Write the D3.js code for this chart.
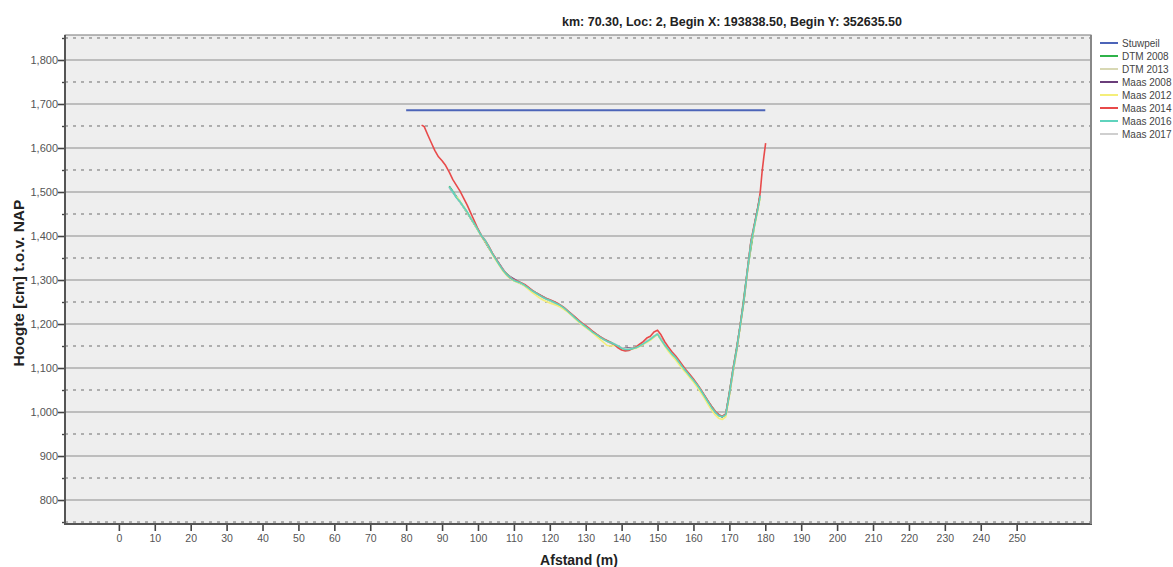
<!DOCTYPE html>
<html><head><meta charset="utf-8">
<script src="https://cdn.jsdelivr.net/npm/d3@7"></script>
<style>body{margin:0;background:#fff}svg{display:block;font-family:"Liberation Sans",Arial,sans-serif}</style>
</head><body>
<svg id="c" width="1173" height="567"></svg>
<script>
const titleText = "km: 70.30, Loc: 2, Begin X: 193838.50, Begin Y: 352635.50";
const xLabel = "Afstand (m)";
const yLabel = "Hoogte [cm] t.o.v. NAP";
const xTicks = d3.range(0, 251, 10);
const yMajor = [800, 900, 1000, 1100, 1200, 1300, 1400, 1500, 1600, 1700, 1800];
const yMinor = [750, 850, 950, 1050, 1150, 1250, 1350, 1450, 1550, 1650, 1750, 1850];
const legendNames = ["Stuwpeil", "DTM 2008", "DTM 2013", "Maas 2008", "Maas 2012", "Maas 2014", "Maas 2016", "Maas 2017"];
const legendColors = ["#4c64b8", "#2fb34a", "#d8d8b4", "#6a3d7a", "#f4ee7a", "#e84a4a", "#5fd3bd", "#cfcfcf"];

const stuwpeil = [[80, 1686], [180, 1686]];

const dtm2008 = [[92,1513],[95,1478],[98,1440],[101,1400],[104,1360],[107,1322],[110,1299],[113,1288],[116,1271],[119,1257],[122,1246],[125,1229],[128,1207],[131,1188],[134,1170],[137,1158],[140,1145],[143,1144],[146,1155],[149,1172],[150,1177],[152,1152],[155,1124],[158,1092],[161,1062],[164,1024],[167,992],[168,989],[169,994],[171,1095],[173,1195],[175,1320],[177,1425],[178.6,1492]];

const dtm2013 = [[93,1500],[95,1477],[97,1454],[99,1427],[101,1399],[103,1375],[105,1346],[107,1321],[109,1304],[111,1295],[113,1287],[115,1275],[117,1265],[119,1256],[121,1249],[123,1241],[125,1228],[127,1213],[129,1199],[131,1187],[133,1175],[135,1164],[137,1157],[139,1149],[141,1143],[143,1145],[145,1151],[147,1161],[149,1173],[150,1178],[151,1165],[153,1143],[155,1125],[157,1103],[159,1083],[161,1063],[163,1038],[165,1012],[167,993],[168,990],[169,995],[170,1038],[171,1093],[172,1139],[173,1194],[174,1249],[175,1318],[176,1383],[177,1424],[178,1464]];

const maas2008 = [[92,1511],[96,1466],[100,1414],[104,1360],[108,1312],[112,1293],[116,1271],[120,1254],[124,1236],[128,1207],[132,1181],[136,1161],[140,1145],[144,1146],[148,1165],[150,1177],[154,1132],[158,1092],[162,1050],[166,1000],[168,989],[169,995],[170,1040],[172,1140],[174,1250],[176,1385],[178,1466],[178.6,1493]];

const maas2012 = [[94,1490],[95,1479],[96,1467],[97,1454],[98,1440],[99,1427],[100,1413],[101,1399],[102,1388],[103,1374],[104,1358],[105,1345],[106,1332],[107,1320],[108,1310],[109,1303],[110,1298],[111,1295],[112,1292],[113,1286],[114,1279],[115,1272],[116,1266],[117,1260],[118,1255],[119,1251],[120,1248],[121,1245],[122,1242],[123,1238],[124,1233],[125,1227],[126,1220],[127,1212],[128,1205],[129,1198],[130,1192],[131,1186],[132,1179],[133,1172],[134,1165],[135,1158],[136,1151],[137,1150],[138,1151],[139,1148],[140,1144],[141,1141],[142,1141],[143,1143],[144,1145],[145,1149],[146,1154],[147,1158],[148,1163],[149,1170],[150,1176],[151,1163],[152,1150],[153,1138],[154,1128],[155,1119],[156,1108],[157,1097],[158,1088],[159,1078],[160,1068],[161,1057],[162,1045],[163,1032],[164,1018],[165,1005],[166,994],[167,986],[168,983],[169,989],[170,1035],[171,1090],[172,1136],[173,1192],[174,1247],[175,1316],[176,1381],[177,1422],[178,1462],[178.6,1488]];

const maas2014 = [[84.3,1652],[85,1649],[86,1630],[87,1612],[88,1594],[89,1580],[90,1571],[91,1560],[92,1545],[93,1528],[94,1515],[95,1502],[96,1486],[97,1470],[98,1452],[99,1434],[100,1416],[101,1400],[102,1390],[103,1377],[104,1361],[105,1348],[106,1335],[107,1323],[108,1313],[109,1305],[110,1300],[111,1297],[112,1294],[113,1290],[114,1284],[115,1277],[116,1272],[117,1267],[118,1262],[119,1258],[120,1255],[121,1252],[122,1248],[123,1243],[124,1237],[125,1230],[126,1223],[127,1216],[128,1209],[129,1202],[130,1196],[131,1190],[132,1183],[133,1177],[134,1171],[135,1166],[136,1162],[137,1158],[138,1153],[139,1146],[140,1141],[141,1139],[142,1140],[143,1144],[144,1148],[145,1154],[146,1160],[147,1168],[148,1172],[149,1182],[150,1186],[151,1175],[152,1160],[153,1148],[154,1137],[155,1128],[156,1117],[157,1106],[158,1095],[159,1085],[160,1075],[161,1064],[162,1052],[163,1039],[164,1026],[165,1013],[166,1002],[167,994],[168,990],[169,996],[170,1042],[171,1098],[172,1142],[173,1197],[174,1252],[175,1322],[176,1388],[177,1428],[178,1468],[178.6,1500],[179.1,1545],[179.6,1580],[180.1,1611]];

const maas2016 = [[92,1512],[93,1500],[94,1487],[95,1478],[96,1466],[97,1455],[98,1440],[99,1428],[100,1414],[101,1400],[102,1390],[103,1376],[104,1360],[105,1347],[106,1334],[107,1322],[108,1312],[109,1305],[110,1299],[111,1296],[112,1293],[113,1288],[114,1282],[115,1276],[116,1271],[117,1266],[118,1261],[119,1257],[120,1254],[121,1250],[122,1246],[123,1242],[124,1236],[125,1229],[126,1222],[127,1214],[128,1207],[129,1200],[130,1194],[131,1188],[132,1181],[133,1176],[134,1170],[135,1165],[136,1161],[137,1158],[138,1154],[139,1150],[140,1145],[141,1142],[142,1142],[143,1144],[144,1146],[145,1150],[146,1155],[147,1160],[148,1165],[149,1172],[150,1177],[151,1164],[152,1152],[153,1142],[154,1132],[155,1124],[156,1113],[157,1102],[158,1092],[159,1082],[160,1072],[161,1062],[162,1050],[163,1037],[164,1024],[165,1011],[166,1000],[167,992],[168,989],[169,994],[170,1040],[171,1095],[172,1140],[173,1195],[174,1250],[175,1320],[176,1385],[177,1425],[178,1465],[178.6,1492]];

const maas2017 = [[92,1510],[94,1488],[96,1465],[98,1441],[100,1414],[102,1391],[104,1361],[106,1335],[108,1313],[110,1300],[112,1294],[114,1283],[116,1272],[118,1262],[120,1255],[122,1247],[124,1237],[126,1223],[128,1208],[130,1195],[132,1182],[134,1171],[136,1162],[138,1155],[140,1146],[142,1143],[144,1147],[146,1156],[148,1166],[150,1178],[152,1153],[154,1133],[156,1114],[158,1093],[160,1073],[162,1051],[164,1025],[166,1001],[167,993],[168,990],[169,995],[170,1041],[171,1096],[172,1141],[173,1196],[174,1251],[176,1386],[178,1466],[178.6,1493]];

const seriesData = {"Stuwpeil": stuwpeil, "DTM 2008": dtm2008, "DTM 2013": dtm2013, "Maas 2008": maas2008, "Maas 2012": maas2012, "Maas 2014": maas2014, "Maas 2016": maas2016, "Maas 2017": maas2017};
const drawOrder = ["DTM 2008", "Maas 2008", "DTM 2013", "Maas 2017", "Maas 2012", "Maas 2014", "Maas 2016", "Stuwpeil"];

const svg = d3.select("#c");
const L = 65, R = 1091, T = 35, B = 524;
const x = d3.scaleLinear().domain([-15, 270.7]).range([L, R]);
const y = d3.scaleLinear().domain([745.5, 1856.8]).range([B, T]);
const color = d3.scaleOrdinal().domain(legendNames).range(legendColors);

svg.append("rect").attr("x", L).attr("y", T).attr("width", R - L).attr("height", B - T)
  .attr("fill", "#eeeeee").attr("stroke", "#777").attr("stroke-width", 1);

// gridlines
svg.append("g").selectAll("line").data(yMajor).join("line")
  .attr("x1", L).attr("x2", R).attr("y1", d => y(d)).attr("y2", d => y(d))
  .attr("stroke", "#8c8c8c").attr("stroke-width", 1.2);
svg.append("g").selectAll("line").data(yMinor).join("line")
  .attr("x1", L).attr("x2", R).attr("y1", d => y(d)).attr("y2", d => y(d))
  .attr("stroke", "#6e6e6e").attr("stroke-width", 1).attr("stroke-dasharray", "3,5");

// y axis
const yAxisMajor = d3.axisLeft(y).tickValues(yMajor).tickSize(7).tickFormat(d3.format(","));
const gy = svg.append("g").attr("transform", `translate(${L},0)`).call(yAxisMajor);
gy.select(".domain").remove();
gy.selectAll(".tick line").attr("stroke", "#444").attr("stroke-width", 1.6);
gy.selectAll(".tick text").attr("fill", "#555").attr("font-size", 11).attr("x", -7);
const gy2 = svg.append("g").attr("transform", `translate(${L},0)`)
  .call(d3.axisLeft(y).tickValues(yMinor).tickSize(3).tickFormat(""));
gy2.select(".domain").remove();
gy2.selectAll(".tick line").attr("stroke", "#444").attr("stroke-width", 1.4);

// x axis
const gx = svg.append("g").attr("transform", `translate(0,${B})`)
  .call(d3.axisBottom(x).tickValues(xTicks).tickSize(7).tickPadding(4));
gx.select(".domain").remove();
gx.selectAll(".tick line").attr("stroke", "#444").attr("stroke-width", 1.6);
gx.selectAll(".tick text").attr("fill", "#555").attr("font-size", 10.5);

// frame emphasis
svg.append("line").attr("x1", L).attr("x2", L).attr("y1", T).attr("y2", B + 1).attr("stroke", "#555").attr("stroke-width", 2);
svg.append("line").attr("x1", L - 1).attr("x2", R + 1).attr("y1", B).attr("y2", B).attr("stroke", "#555").attr("stroke-width", 2);
svg.append("line").attr("x1", R).attr("x2", R).attr("y1", T).attr("y2", B).attr("stroke", "#888").attr("stroke-width", 2);

// series
const line = d3.line().x(d => x(d[0])).y(d => y(d[1]));
svg.append("g").attr("fill", "none").selectAll("path").data(drawOrder).join("path")
  .attr("d", k => line(seriesData[k]))
  .attr("stroke", k => color(k))
  .attr("stroke-width", k => k === "Stuwpeil" ? 2 : 1.6)
  .attr("stroke-linejoin", "round");

// title & labels
svg.append("text").attr("x", 732).attr("y", 26).attr("text-anchor", "middle")
  .attr("font-size", 12.5).attr("font-weight", "bold").attr("fill", "#222").text(titleText);
svg.append("text").attr("x", 579).attr("y", 565).attr("text-anchor", "middle")
  .attr("font-size", 14).attr("font-weight", "bold").attr("fill", "#222").text(xLabel);
svg.append("text").attr("transform", "translate(24,283) rotate(-90)").attr("text-anchor", "middle")
  .attr("font-size", 15.5).attr("font-weight", "bold").attr("fill", "#222").text(yLabel);

// legend
const lg = svg.append("g").selectAll("g").data(legendNames).join("g")
  .attr("transform", (d, i) => `translate(1100,${43 + i * 13})`);
lg.append("line").attr("x1", 0).attr("x2", 18).attr("stroke", d => color(d)).attr("stroke-width", 2);
lg.append("text").attr("x", 22).attr("y", 3.5).attr("font-size", 10).attr("fill", "#444").text(d => d);
</script>
</body></html>
